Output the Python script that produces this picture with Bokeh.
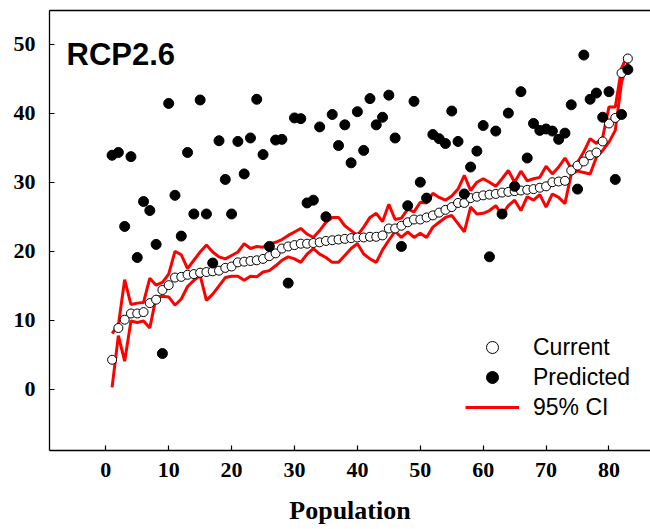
from bokeh.plotting import figure
from bokeh.models import (ColumnDataSource, FixedTicker, LinearAxis, Legend, LegendItem,
                          Label, Range1d)
from bokeh.embed import file_html
from bokeh.resources import INLINE

population = list(range(1, 84))

current = [4.3, 8.9, 10.1, 11.0, 11.0, 11.2, 12.5, 13.0, 14.4, 15.1,
           16.2, 16.3, 16.6, 16.7, 16.9, 17.0, 17.1, 17.2, 17.6, 17.8,
           18.4, 18.5, 18.6, 18.7, 18.9, 19.3, 19.7, 20.4, 20.7, 20.9,
           21.1, 21.1, 21.2, 21.3, 21.5, 21.6, 21.7, 21.8, 21.9, 22.0,
           22.0, 22.1, 22.1, 22.3, 23.3, 23.3, 23.7, 24.2, 24.6, 24.6,
           24.9, 25.2, 25.6, 26.0, 26.4, 27.0, 27.0, 27.7, 27.9, 28.1,
           28.2, 28.3, 28.5, 28.6, 28.7, 28.8, 28.9, 29.0, 29.2, 29.4,
           30.0, 30.1, 30.2, 31.7, 32.4, 33.0, 33.9, 34.3, 35.9, 38.5,
           39.3, 45.8, 47.9]

predicted = [33.9, 34.3, 23.6, 33.7, 19.1, 27.2, 25.9, 21.0, 5.2, 41.4,
             28.1, 22.2, 34.3, 25.4, 41.9, 25.4, 18.3, 36.0, 30.4, 25.4,
             35.9, 31.2, 36.4, 42.0, 34.0, 20.7, 36.1, 36.2, 15.4, 39.3,
             39.2, 27.0, 27.4, 38.0, 25.0, 39.8, 35.3, 38.3, 32.8, 40.2,
             34.6, 42.1, 38.3, 39.4, 42.6, 36.4, 20.7, 26.6, 41.7, 30.0,
             27.7, 36.9, 36.3, 35.6, 40.3, 35.9, 28.3, 32.2, 34.5, 38.2,
             19.2, 37.4, 25.4, 40.0, 29.4, 43.1, 33.5, 38.5, 37.5, 37.7,
             37.4, 36.2, 37.1, 41.2, 29.0, 48.4, 42.0, 42.9, 39.4, 43.1,
             30.4, 39.8, 46.3]

ci_upper = [8.1, 9.3, 15.9, 12.3, 12.5, 12.6, 16.1, 15.1, 15.5, 16.7,
            20.0, 19.5, 17.5, 18.7, 19.9, 20.9, 19.9, 19.2, 18.9, 19.4,
            19.9, 21.1, 20.4, 20.7, 20.6, 21.1, 21.3, 21.7, 22.3, 22.8,
            23.3, 22.5, 22.0, 23.0, 24.2, 24.9, 24.9, 23.7, 23.0, 22.3,
            23.5, 24.9, 25.5, 24.3, 26.8, 24.6, 24.8, 26.1, 25.7, 27.1,
            27.0, 28.4, 27.8, 27.4, 28.0, 29.0, 31.0, 28.8, 30.0, 30.5,
            30.0, 29.4, 30.5, 31.7, 30.0, 31.6, 30.2, 30.5, 30.7, 32.3,
            31.2, 32.2, 33.5, 32.0, 32.9, 34.4, 36.3, 35.6, 36.5, 40.9,
            40.9, 46.5, 48.5]

ci_lower = [0.3, 7.8, 4.1, 9.9, 9.7, 9.9, 8.9, 13.4, 13.5, 13.4,
            12.2, 13.1, 14.9, 15.8, 16.5, 12.9, 13.8, 15.0, 16.2, 16.4,
            16.4, 15.8, 16.4, 16.3, 17.0, 17.2, 17.9, 18.7, 19.2, 18.9,
            18.4, 19.6, 20.4, 19.6, 19.1, 18.4, 18.4, 19.4, 20.4, 21.1,
            19.6, 18.9, 18.4, 20.2, 21.6, 22.9, 22.0, 22.8, 22.0, 22.6,
            22.0, 23.5, 24.2, 24.9, 25.2, 24.0, 22.8, 26.4, 25.4, 25.5,
            25.9, 26.6, 25.3, 26.6, 27.4, 25.9, 27.9, 27.4, 28.2, 26.4,
            28.3, 27.8, 26.9, 31.2, 31.6, 31.4, 31.2, 33.6, 34.6, 35.8,
            37.5, 44.5, 47.3]

x_ticks = [0, 10, 20, 30, 40, 50, 60, 70, 80]
y_ticks = [0, 10, 20, 30, 40, 50]

src = ColumnDataSource(dict(x=population, cur=current, pred=predicted,
                            up=ci_upper, lo=ci_lower))

p = figure(width=650, height=529, output_backend="svg", toolbar_location=None,
           x_range=Range1d(-8.95, 86.6), y_range=Range1d(-8.83, 54.85),
           x_axis_location=None, y_axis_location=None,
           min_border_left=49, min_border_right=0, min_border_top=10,
           min_border_bottom=79)
p.outline_line_color = None
p.xgrid.visible = False
p.ygrid.visible = False
p.background_fill_color = "white"
p.border_fill_color = "white"

serif = "Liberation Serif"

xaxis = LinearAxis(ticker=FixedTicker(ticks=x_ticks), axis_label="Population")
yaxis = LinearAxis(ticker=FixedTicker(ticks=y_ticks))
for ax in (xaxis, yaxis):
    ax.axis_line_color = "black"
    ax.axis_line_width = 1.3
    ax.major_tick_line_color = "black"
    ax.major_tick_line_width = 1.2
    ax.major_tick_in = 5
    ax.major_tick_out = 0
    ax.minor_tick_line_color = None
    ax.major_label_text_font = serif
    ax.major_label_text_font_style = "bold"
    ax.major_label_text_font_size = "22px"
    ax.major_label_text_color = "black"
xaxis.major_label_standoff = 12
xaxis.axis_label_text_font = serif
xaxis.axis_label_text_font_style = "bold"
xaxis.axis_label_text_font_size = "26px"
xaxis.axis_label_text_color = "black"
xaxis.axis_label_standoff = 16
yaxis.major_label_standoff = 14
p.add_layout(xaxis, "below")
p.add_layout(yaxis, "left")

top = LinearAxis(ticker=FixedTicker(ticks=[]))
top.axis_line_color = "black"
top.axis_line_width = 1.3
top.major_tick_in = 0
top.major_tick_out = 0
top.minor_tick_line_color = None
top.major_label_standoff = 0
top.major_label_text_font_size = "0px"
p.add_layout(top, "above")

r_up = p.line("x", "up", source=src, line_color="#ff0000", line_width=3)
r_lo = p.line("x", "lo", source=src, line_color="#ff0000", line_width=3)
r_cur = p.scatter("x", "cur", source=src, size=9, fill_color="white",
                  line_color="black", line_width=1)
r_pred = p.scatter("x", "pred", source=src, size=10, fill_color="black",
                   line_color="black")

legend = Legend(items=[LegendItem(label="Current", renderers=[r_cur]),
                       LegendItem(label="Predicted", renderers=[r_pred]),
                       LegendItem(label="95% CI", renderers=[r_up])],
                location=(416, 28))
legend.margin = 0
legend.padding = 0
legend.spacing = 0
legend.border_line_color = None
legend.background_fill_alpha = 0
legend.glyph_width = 54
legend.glyph_height = 30
legend.label_height = 30
legend.label_standoff = 14
legend.label_text_font = "Liberation Sans"
legend.label_text_font_size = "23px"
legend.label_text_color = "black"
p.add_layout(legend, "center")

title = Label(x=17, y=396, x_units="screen", y_units="screen", text="RCP2.6",
              text_font="Liberation Sans", text_font_style="bold",
              text_font_size="31px", text_color="black",
              text_baseline="alphabetic")
p.add_layout(title)

open("out.html", "w").write(file_html(p, INLINE))
